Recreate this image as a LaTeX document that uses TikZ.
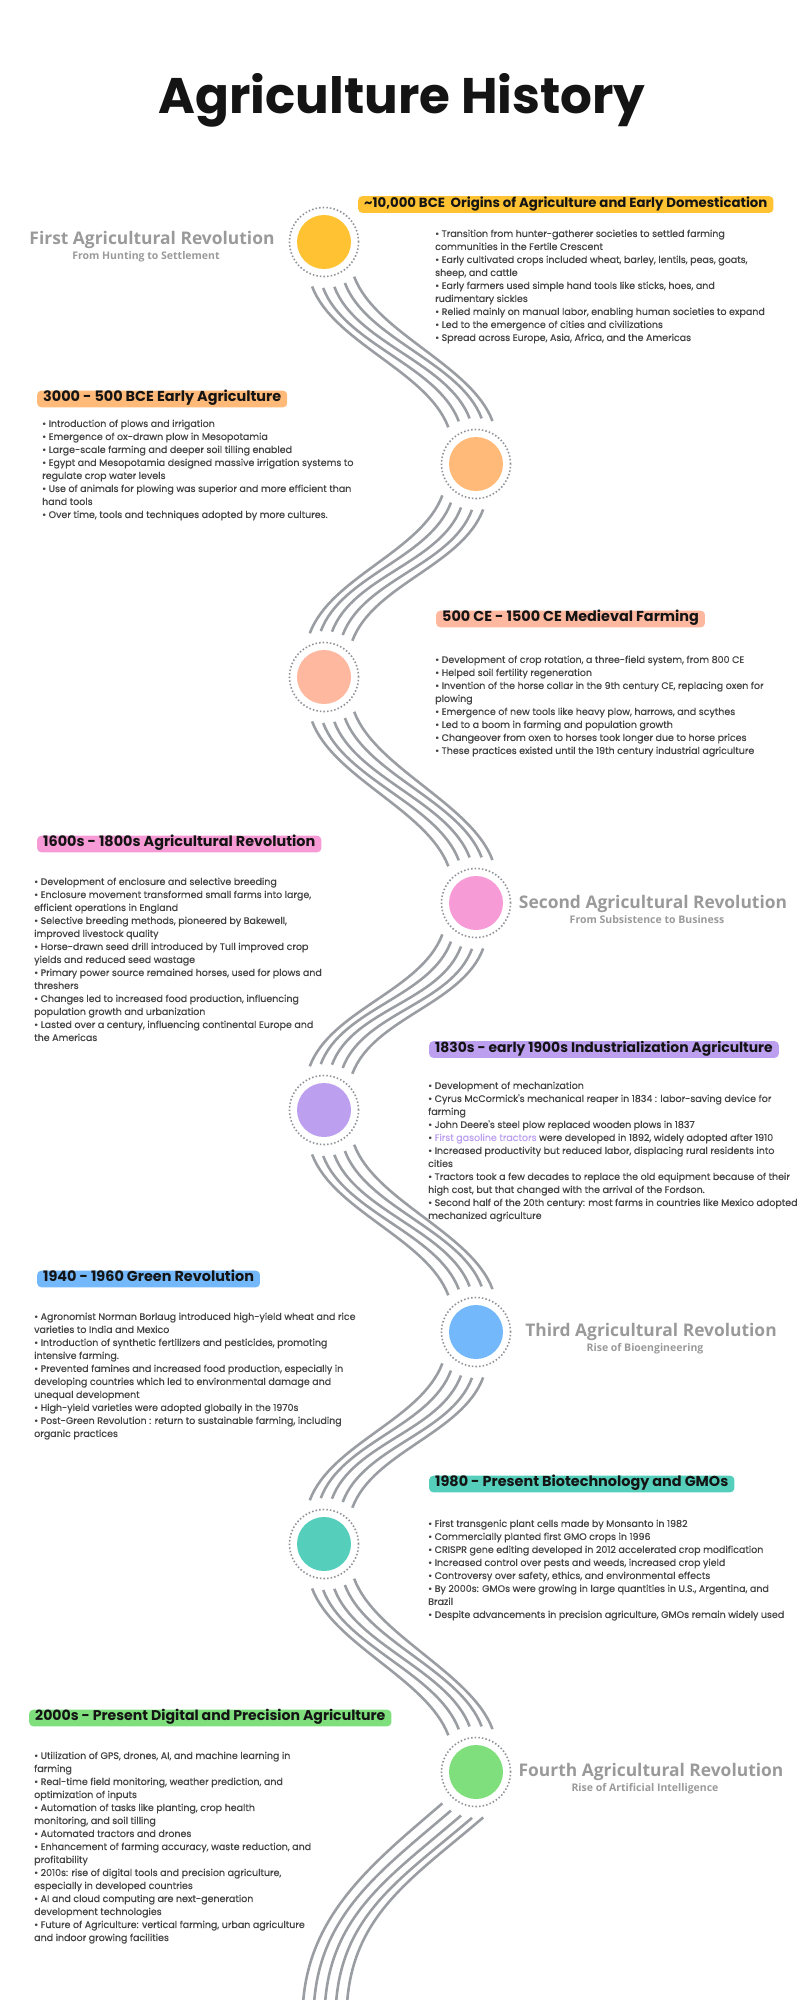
\documentclass[tikz,border=0pt]{standalone}
\usepackage{fontspec}
\usetikzlibrary{positioning}

\newfontfamily\popfont{Poppins}
\newfontfamily\popbody{Poppins}[FakeBold=0.5]
\newfontfamily\opensans{Open Sans}
\newcommand{\headfont}[1]{\popfont\bfseries\fontsize{#1}{#1}\selectfont}

% colours of the eight eras
\definecolor{yel}{HTML}{FFC233}
\definecolor{ora}{HTML}{FFB978}
\definecolor{sal}{HTML}{FFB8A0}
\definecolor{pnk}{HTML}{F79BD6}
\definecolor{pur}{HTML}{BC9FEF}
\definecolor{blu}{HTML}{73B8FA}
\definecolor{tea}{HTML}{55CFBB}
\definecolor{grn}{HTML}{7EDF7C}
% greys
\definecolor{ink}{HTML}{141414}
\definecolor{bodygray}{HTML}{444444}
\definecolor{revgray}{HTML}{9A9A9A}
\definecolor{trackgray}{HTML}{9A9EA3}
\definecolor{ringgray}{HTML}{8E9297}

\tikzset{
	ring/.style={ringgray, line width=1.6pt, dash pattern=on 1.5pt off 2.1pt},
	milestone/.style={circle, minimum size=92pt, inner sep=0pt, outer sep=0pt,
		path picture={
			\fill[#1] (path picture bounding box.center) circle (27pt);
			\draw[ring] (path picture bounding box.center) circle (34.5pt);}},
	track/.style={trackgray, line width=2.6pt},
	era/.style={fill=#1, rounded corners=4pt, text=ink, anchor=west,
		font=\headfont{14.4},
		inner xsep=6pt, inner ysep=0.35em, text height=0.73em, text depth=0.23em},
	notes/.style={text=bodygray, font=\popbody\fontsize{9.5}{13}\selectfont,
		align=left, anchor=north west, inner sep=0pt},
	rev/.style={text=revgray, font=\opensans\bfseries\fontsize{17.4}{19}\selectfont, inner sep=0pt},
	revsub/.style={text=revgray, font=\opensans\bfseries\fontsize{10.5}{12}\selectfont, inner sep=0pt, xshift=-6pt},
}

% five tracks from a stop on the left down to a stop on the right
\newcommand{\trackright}[2]{
	\foreach \i [evaluate=\i as \a using int(-105+14*\i),
	             evaluate=\i as \b using int(127-14.5*\i)] in {0,...,4}
		\draw[track] (#1.\a) .. controls +(21,56) and +(-21,-56) .. (#2.\b);
}
% five tracks from a stop on the right down to a stop on the left
\newcommand{\trackleft}[2]{
	\foreach \i [evaluate=\i as \a using int(-81-14*\i),
	             evaluate=\i as \b using int(52+14*\i)] in {0,...,4}
		\draw[track] (#1.\a) .. controls +(-21,56) and +(21,-56) .. (#2.\b);
}

\begin{document}
\begin{tikzpicture}[x=1pt, y=-1pt]
	\useasboundingbox (0,0) rectangle (800,2000);

	% the title
	\node[font=\popfont\bfseries\fontsize{50}{60}\selectfont, text=ink, anchor=base] (title) at (402,113) {Agriculture History};

	% the eight stops
	\node[milestone=yel] (c1) at (324,242) {};
	\node[milestone=ora] (c2) at (476,464) {};
	\node[milestone=sal] (c3) at (324,677) {};
	\node[milestone=pnk] (c4) at (476,903) {};
	\node[milestone=pur] (c5) at (324,1110) {};
	\node[milestone=blu] (c6) at (476,1332) {};
	\node[milestone=tea] (c7) at (324,1544) {};
	\node[milestone=grn] (c8) at (476,1772) {};

	% tracks between the stops
	\trackright{c1}{c2}
	\trackleft{c2}{c3}
	\trackright{c3}{c4}
	\trackleft{c4}{c5}
	\trackright{c5}{c6}
	\trackleft{c6}{c7}
	\trackright{c7}{c8}

	% tracks running off the page
	\foreach \j in {0,...,4}
		\coordinate (foot\j) at ({347-11*\j},2004);
	\foreach \j [evaluate=\j as \a using int(-81-14*\j)] in {0,...,4}
		\draw[track] (c8.\a) .. controls +(-70,60) and +(6,-90) .. (foot\j);

	% the revolutions
	\node[rev] (r1) at (152,240) {First Agricultural Revolution};
	\node[revsub, below=2pt of r1] (r1s) {From Hunting to Settlement};
	\node[rev] (r2) at (653,904) {Second Agricultural Revolution};
	\node[revsub, below=2pt of r2] (r2s) {From Subsistence to Business};
	\node[rev] (r3) at (651,1332) {Third Agricultural Revolution};
	\node[revsub, below=2pt of r3] (r3s) {Rise of Bioengineering};
	\node[rev] (r4) at (651,1772) {Fourth Agricultural Revolution};
	\node[revsub, below=2pt of r4] (r4s) {Rise of Artificial Intelligence};

	% era headings
	\node[era=yel, font=\headfont{13.3}] (h1) at (358,204.5) {\textasciitilde10,000 BCE\ \ Origins of Agriculture and Early Domestication};
	\node[era=ora] (h2) at (37,399) {3000 - 500 BCE Early Agriculture};
	\node[era=sal] (h3) at (436,619) {500 CE - 1500 CE Medieval Farming};
	\node[era=pnk] (h4) at (37,844) {1600s - 1800s Agricultural Revolution};
	\node[era=pur, font=\headfont{13.9}] (h5) at (429,1049.5) {1830s - early 1900s Industrialization Agriculture};
	\node[era=blu] (h6) at (37,1279) {1940 - 1960 Green Revolution};
	\node[era=tea] (h7) at (429,1484) {1980 - Present Biotechnology and GMOs};
	\node[era=grn, font=\headfont{14.1}] (h8) at (29,1718) {2000s - Present Digital and Precision Agriculture};

	% era notes
	\node[notes] (n1) at (435,229.5) {• Transition from hunter-gatherer societies to settled farming\\
		communities in the Fertile Crescent\\
		• Early cultivated crops included wheat, barley, lentils, peas, goats,\\
		sheep, and cattle\\
		• Early farmers used simple hand tools like sticks, hoes, and\\
		rudimentary sickles\\
		• Relied mainly on manual labor, enabling human societies to expand\\
		• Led to the emergence of cities and civilizations\\
		• Spread across Europe, Asia, Africa, and the Americas};
	\node[notes] (n2) at (42,419.5) {• Introduction of plows and irrigation\\
		• Emergence of ox-drawn plow in Mesopotamia\\
		• Large-scale farming and deeper soil tilling enabled\\
		• Egypt and Mesopotamia designed massive irrigation systems to\\
		regulate crop water levels\\
		• Use of animals for plowing was superior and more efficient than\\
		hand tools\\
		• Over time, tools and techniques adopted by more cultures.};
	\node[notes] (n3) at (435,655.5) {• Development of crop rotation, a three-field system, from 800 CE\\
		• Helped soil fertility regeneration\\
		• Invention of the horse collar in the 9th century CE, replacing oxen for\\
		plowing\\
		• Emergence of new tools like heavy plow, harrows, and scythes\\
		• Led to a boom in farming and population growth\\
		• Changeover from oxen to horses took longer due to horse prices\\
		• These practices existed until the 19th century industrial agriculture};
	\node[notes] (n4) at (34,877.5) {• Development of enclosure and selective breeding\\
		• Enclosure movement transformed small farms into large,\\
		efficient operations in England\\
		• Selective breeding methods, pioneered by Bakewell,\\
		improved livestock quality\\
		• Horse-drawn seed drill introduced by Tull improved crop\\
		yields and reduced seed wastage\\
		• Primary power source remained horses, used for plows and\\
		threshers\\
		• Changes led to increased food production, influencing\\
		population growth and urbanization\\
		• Lasted over a century, influencing continental Europe and\\
		the Americas};
	\node[notes] (n5) at (428,1081.5) {• Development of mechanization\\
		• Cyrus McCormick's mechanical reaper in 1834 : labor-saving device for\\
		farming\\
		• John Deere's steel plow replaced wooden plows in 1837\\
		• \textcolor{pur}{First gasoline tractors} were developed in 1892, widely adopted after 1910\\
		• Increased productivity but reduced labor, displacing rural residents into\\
		cities\\
		• Tractors took a few decades to replace the old equipment because of their\\
		high cost, but that changed with the arrival of the Fordson.\\
		• Second half of the 20th century: most farms in countries like Mexico adopted\\
		mechanized agriculture};
	\node[notes] (n6) at (34,1312.5) {• Agronomist Norman Borlaug introduced high-yield wheat and rice\\
		varieties to India and Mexico\\
		• Introduction of synthetic fertilizers and pesticides, promoting\\
		intensive farming.\\
		• Prevented famines and increased food production, especially in\\
		developing countries which led to environmental damage and\\
		unequal development\\
		• High-yield varieties were adopted globally in the 1970s\\
		• Post-Green Revolution : return to sustainable farming, including\\
		organic practices};
	\node[notes] (n7) at (428,1519.5) {• First transgenic plant cells made by Monsanto in 1982\\
		• Commercially planted first GMO crops in 1996\\
		• CRISPR gene editing developed in 2012 accelerated crop modification\\
		• Increased control over pests and weeds, increased crop yield\\
		• Controversy over safety, ethics, and environmental effects\\
		• By 2000s: GMOs were growing in large quantities in U.S., Argentina, and\\
		Brazil\\
		• Despite advancements in precision agriculture, GMOs remain widely used};
	\node[notes] (n8) at (34,1751.5) {• Utilization of GPS, drones, AI, and machine learning in\\
		farming\\
		• Real-time field monitoring, weather prediction, and\\
		optimization of inputs\\
		• Automation of tasks like planting, crop health\\
		monitoring, and soil tilling\\
		• Automated tractors and drones\\
		• Enhancement of farming accuracy, waste reduction, and\\
		profitability\\
		• 2010s: rise of digital tools and precision agriculture,\\
		especially in developed countries\\
		• AI and cloud computing are next-generation\\
		development technologies\\
		• Future of Agriculture: vertical farming, urban agriculture\\
		and indoor growing facilities};
\end{tikzpicture}
\end{document}
